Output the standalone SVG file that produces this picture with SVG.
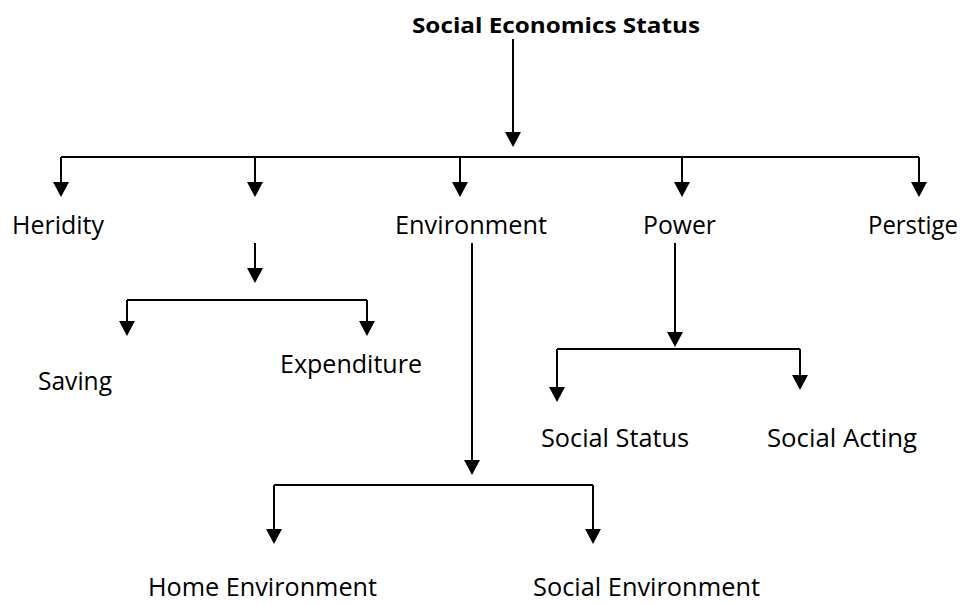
<svg xmlns="http://www.w3.org/2000/svg" width="966" height="604" viewBox="0 0 966 604">
  <style>
    .lbl { font-family: "Open Sans", "Liberation Sans", sans-serif; font-size: 25px; fill: #000; }
    .title { font-family: "Open Sans", "Liberation Sans", sans-serif; font-size: 22px; font-weight: bold; fill: #000; }
    .wire { fill: none; stroke: #000; stroke-width: 2; }
  </style>
  <defs>
    <marker id="head" markerUnits="userSpaceOnUse" viewBox="0 0 15 16" refX="10" refY="8" markerWidth="15" markerHeight="16" orient="auto">
      <path d="M0,0 L15,8 L0,16 Z" fill="#000"/>
    </marker>
  </defs>
  <rect width="966" height="604" fill="#fff"/>

  <g id="connectors">
    <!-- root to first-level bar -->
    <path class="wire" d="M513,39 V142" marker-end="url(#head)"/>
    <path class="wire" d="M61,157 H919"/>
    <path class="wire" d="M61,157 V192" marker-end="url(#head)"/>
    <path class="wire" d="M255,157 V192" marker-end="url(#head)"/>
    <path class="wire" d="M460,157 V192" marker-end="url(#head)"/>
    <path class="wire" d="M682,157 V192" marker-end="url(#head)"/>
    <path class="wire" d="M919,157 V192" marker-end="url(#head)"/>

    <!-- unlabelled branch: Saving / Expenditure -->
    <path class="wire" d="M255,243 V278" marker-end="url(#head)"/>
    <path class="wire" d="M127,300 H367"/>
    <path class="wire" d="M127,300 V331" marker-end="url(#head)"/>
    <path class="wire" d="M367,300 V331" marker-end="url(#head)"/>

    <!-- Environment branch -->
    <path class="wire" d="M472,243 V470" marker-end="url(#head)"/>
    <path class="wire" d="M274,485 H593"/>
    <path class="wire" d="M274,485 V539" marker-end="url(#head)"/>
    <path class="wire" d="M593,485 V539" marker-end="url(#head)"/>

    <!-- Power branch -->
    <path class="wire" d="M675,243 V342" marker-end="url(#head)"/>
    <path class="wire" d="M557,349 H800"/>
    <path class="wire" d="M557,349 V397" marker-end="url(#head)"/>
    <path class="wire" d="M800,349 V385" marker-end="url(#head)"/>
  </g>

  <g id="node-root"><text class="title" x="412" y="33" textLength="288" lengthAdjust="spacingAndGlyphs">Social Economics Status</text></g>
  <g id="node-heridity"><text class="lbl" x="12" y="234" textLength="92" lengthAdjust="spacingAndGlyphs">Heridity</text></g>
  <g id="node-environment"><text class="lbl" x="395" y="234" textLength="152" lengthAdjust="spacingAndGlyphs">Environment</text></g>
  <g id="node-power"><text class="lbl" x="643" y="234" textLength="73" lengthAdjust="spacingAndGlyphs">Power</text></g>
  <g id="node-perstige"><text class="lbl" x="868" y="234" textLength="90" lengthAdjust="spacingAndGlyphs">Perstige</text></g>
  <g id="node-saving"><text class="lbl" x="38" y="390" textLength="74" lengthAdjust="spacingAndGlyphs">Saving</text></g>
  <g id="node-expenditure"><text class="lbl" x="280" y="373" textLength="142" lengthAdjust="spacingAndGlyphs">Expenditure</text></g>
  <g id="node-social-status"><text class="lbl" x="541" y="447" textLength="148" lengthAdjust="spacingAndGlyphs">Social Status</text></g>
  <g id="node-social-acting"><text class="lbl" x="767" y="447" textLength="150" lengthAdjust="spacingAndGlyphs">Social Acting</text></g>
  <g id="node-home-environment"><text class="lbl" x="148" y="596" textLength="229" lengthAdjust="spacingAndGlyphs">Home Environment</text></g>
  <g id="node-social-environment"><text class="lbl" x="533" y="596" textLength="227" lengthAdjust="spacingAndGlyphs">Social Environment</text></g>
</svg>
